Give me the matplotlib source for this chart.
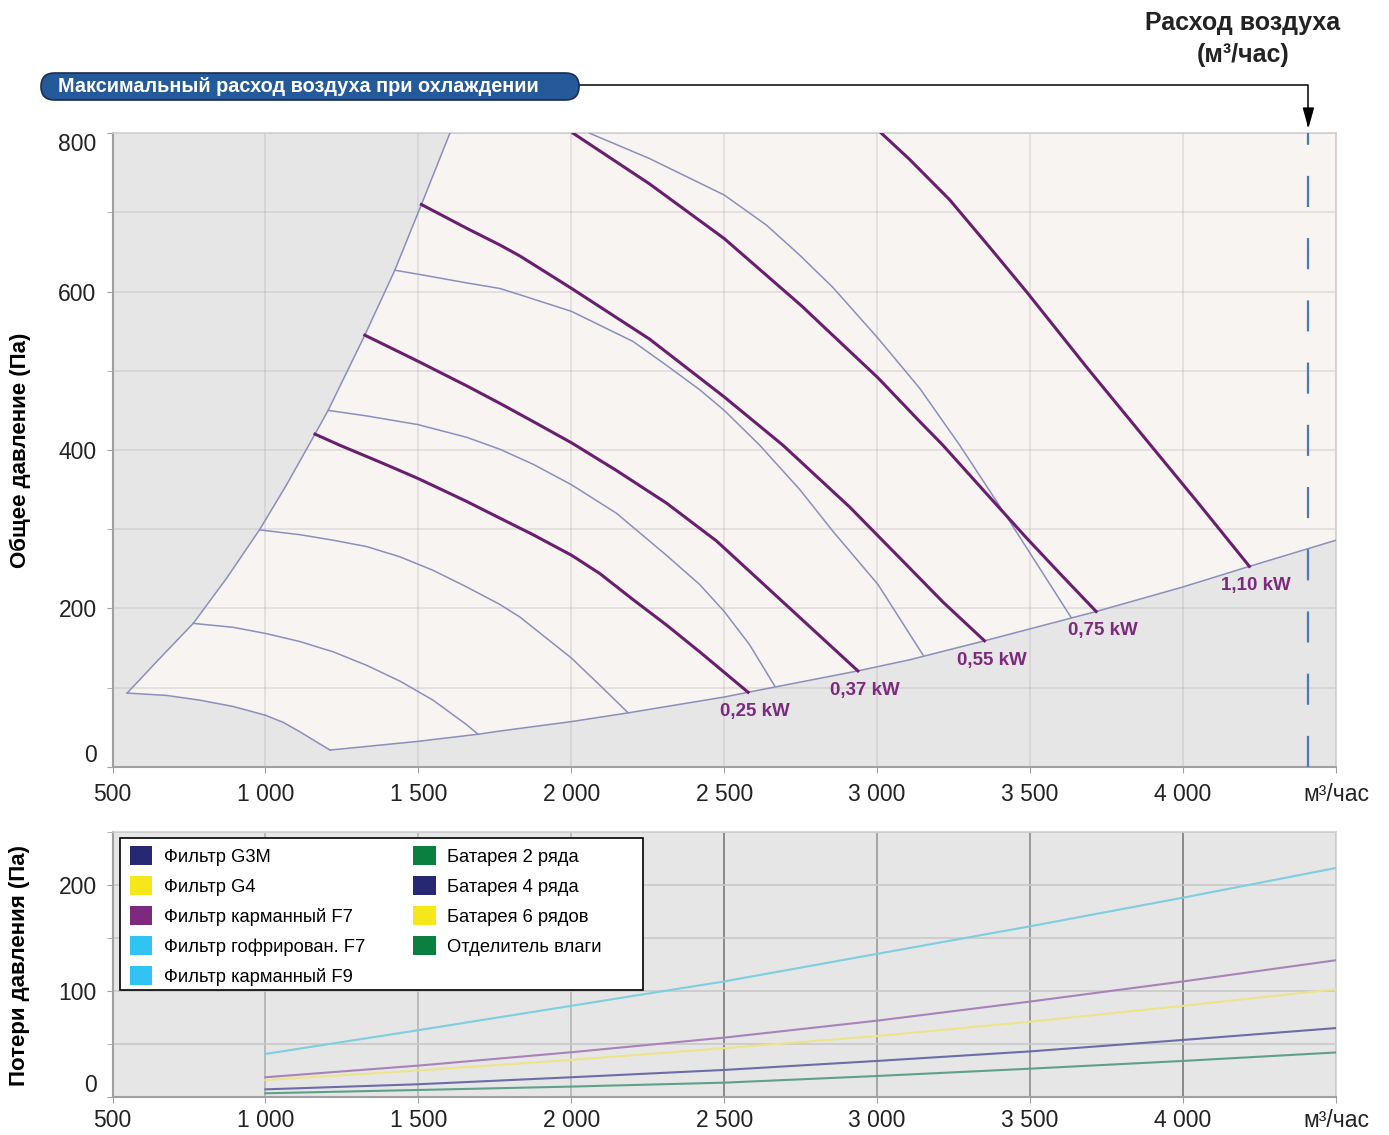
"""Fan performance chart with pressure losses of the unit components."""

import matplotlib
matplotlib.use("Agg")  # non-interactive backend

import matplotlib.pyplot as plt
from matplotlib.patches import Patch, FancyBboxPatch, Rectangle

plt.rcParams["font.family"] = ["Liberation Sans", "DejaVu Sans"]

# ---- axis ticks ----
X_TICKS = [500, 1000, 1500, 2000, 2500, 3000, 3500, 4000, 4500]
X_TICK_LABELS = ["500", "1 000", "1 500", "2 000", "2 500", "3 000",
                 "3 500", "4 000", "м³/час"]
Y_TICKS_TOP = [0, 200, 400, 600, 800]
Y_TICKS_BOTTOM = [0, 100, 200]

# ---- working area boundaries (m3/h, Pa) ----
LEFT_X = [548, 655, 764, 873, 982, 1069, 1162, 1205, 1325, 1423, 1510, 1603]
LEFT_Y = [93, 137, 181, 238, 300, 356, 420, 450, 545, 627, 710, 800]
LOWER_X = [548, 677, 786, 895, 1000, 1058, 1113, 1211]
LOWER_Y = [93, 90, 84, 76, 65, 56, 44, 21]
BOTTOM_X = [1211, 1499, 1695, 1766, 2001, 2186, 2500, 2578, 2937, 3106,
            3351, 3716, 4000, 4217, 4500]
BOTTOM_Y = [21, 32, 41, 45, 57, 68, 88, 94, 121, 135, 159, 196, 227, 253, 286]

# ---- motor power curves ----
POWER_LABELS = ["0,25 kW", "0,37 kW", "0,55 kW", "0,75 kW", "1,10 kW"]
P025_X = [1162, 1243, 1385, 1499, 1658, 1766, 1875, 2001, 2093, 2202, 2311,
          2420, 2578]
P025_Y = [420, 406, 383, 364, 335, 314, 293, 267, 244, 211, 179, 145, 94]
P037_X = [1325, 1499, 1658, 1766, 1875, 2001, 2148, 2311, 2475, 2692, 2937]
P037_Y = [545, 512, 481, 459, 436, 409, 374, 333, 285, 208, 121]
P055_X = [1510, 1658, 1766, 1832, 2001, 2256, 2500, 2692, 2910, 3106, 3215,
          3351]
P055_Y = [710, 680, 659, 645, 604, 540, 467, 406, 328, 251, 208, 159]
P075_X = [2006, 2256, 2500, 2750, 3003, 3139, 3215, 3350, 3488, 3600, 3716]
P075_Y = [800, 736, 667, 583, 491, 436, 406, 348, 289, 243, 196]
P110_X = [3014, 3106, 3237, 3370, 3488, 3684, 3907, 4054, 4217]
P110_Y = [800, 767, 716, 655, 600, 505, 400, 331, 253]

# ---- fan speed curves ----
S2_X = [764, 895, 1004, 1113, 1222, 1331, 1440, 1548, 1658, 1695]
S2_Y = [181, 176, 168, 158, 145, 128, 108, 84, 53, 41]
S3_X = [982, 1113, 1222, 1331, 1440, 1548, 1658, 1766, 1832, 2001, 2093,
        2186]
S3_Y = [299, 293, 286, 278, 265, 248, 227, 205, 189, 137, 103, 68]
S4_X = [1205, 1331, 1499, 1658, 1766, 1875, 2001, 2148, 2311, 2420, 2500,
        2583, 2665]
S4_Y = [450, 443, 432, 416, 401, 382, 356, 320, 267, 230, 196, 154, 102]
S5_X = [1423, 1499, 1658, 1766, 1832, 2001, 2202, 2311, 2420, 2500, 2616,
        2747, 2856, 3003, 3150]
S5_Y = [627, 622, 611, 604, 596, 575, 537, 507, 476, 450, 406, 350, 297,
        230, 141]
S6_X = [2060, 2256, 2500, 2638, 2747, 2856, 3003, 3139, 3270, 3433, 3635]
S6_Y = [800, 768, 722, 684, 646, 605, 541, 478, 406, 310, 188]

MAX_COOLING_FLOW = 4410

# ---- pressure losses (bottom panel) ----
LOSS_X = [1000, 1500, 2000, 2500, 3000, 3500, 4000, 4500]
LOSS_F9 = [40.6, 63, 86, 109, 135, 161, 188, 216]
LOSS_F7 = [18.6, 29.6, 42.2, 56, 72, 90, 109, 129]
LOSS_G4 = [16, 25, 35, 46, 57.5, 71, 86, 101.6]
LOSS_G3M = [7.2, 12, 18.6, 25.5, 34, 43, 53.8, 65]
LOSS_COIL2 = [3.5, 6.6, 9.8, 13.5, 19.8, 26.7, 34, 42]

LEGEND_LABELS = ["Фильтр G3M", "Фильтр G4", "Фильтр карманный F7",
                 "Фильтр гофрирован. F7", "Фильтр карманный F9",
                 "Батарея 2 ряда", "Батарея 4 ряда", "Батарея 6 рядов",
                 "Отделитель влаги"]
LEGEND_COLORS = ["#262874", "#f6e71a", "#7d2a7e", "#31c3f2", "#31c3f2",
                 "#0b7f40", "#262874", "#f6e71a", "#0b7f40"]

THICK = "#6a1f6e"
THIN = "#8a8fbb"
LABEL_PURPLE = "#7b2a7c"
GRAY_BG = "#e6e6e6"
PINK_BG = "#f8f4f2"


def style_axes(ax):
    for side in ("left", "bottom"):
        ax.spines[side].set_color("#a0a0a0")
        ax.spines[side].set_linewidth(1.5)
    for side in ("top", "right"):
        ax.spines[side].set_color("#cfcfcf")
        ax.spines[side].set_linewidth(1.2)
    ax.tick_params(which="both", colors="#a0a0a0", labelcolor="#222222",
                   labelsize=16.5, length=4)


fig = plt.figure(figsize=(13.89, 11.35), dpi=100)
ax = fig.add_axes([0.081, 0.3245, 0.8808, 0.5581])
ax2 = fig.add_axes([0.081, 0.0335, 0.8808, 0.2335])

# ---------------- top panel ----------------
ax.set_facecolor(GRAY_BG)
fill_x = LEFT_X + [4500] + BOTTOM_X[::-1] + LOWER_X[::-1]
fill_y = LEFT_Y + [800] + BOTTOM_Y[::-1] + LOWER_Y[::-1]
ax.fill(fill_x, fill_y, color=PINK_BG, lw=0, zorder=1)

for xs, ys in [(LEFT_X, LEFT_Y), (LOWER_X, LOWER_Y), (BOTTOM_X, BOTTOM_Y),
               (S2_X, S2_Y), (S3_X, S3_Y), (S4_X, S4_Y), (S5_X, S5_Y),
               (S6_X, S6_Y)]:
    ax.plot(xs, ys, color=THIN, lw=1.1, zorder=3, solid_joinstyle="round")

power_curves = [(P025_X, P025_Y), (P037_X, P037_Y), (P055_X, P055_Y),
                (P075_X, P075_Y), (P110_X, P110_Y)]
for (xs, ys), label in zip(power_curves, POWER_LABELS):
    ax.plot(xs, ys, color=THICK, lw=2.2, zorder=4, solid_joinstyle="round")
    ax.annotate(label, xy=(xs[-1], ys[-1]), xytext=(5, -14),
                textcoords="offset points", ha="center", va="center",
                color=LABEL_PURPLE, fontsize=13.5, fontweight="bold")

ax.axvline(MAX_COOLING_FLOW, color="#4a78b8", lw=1.6,
           linestyle=(0, (14, 14)), zorder=5)

ax.set_xlim(500, 4500)
ax.set_ylim(0, 800)
ax.set_xticks(X_TICKS)
ax.set_xticklabels(X_TICK_LABELS)
ax.set_yticks(Y_TICKS_TOP)
ax.set_yticks(range(0, 801, 100), minor=True)
ax.grid(True, which="both", color="#b0b0b0", alpha=0.35, lw=1.2)
style_axes(ax)
ax.tick_params(axis="x", pad=8)
ax.tick_params(axis="y", pad=7.5)
ax.get_yticklabels()[0].set_va("bottom")
ax.get_yticklabels()[-1].set_va("top")

# ---------------- bottom panel ----------------
ax2.set_facecolor(GRAY_BG)
loss_series = [(LOSS_F9, "#7fcde0"), (LOSS_F7, "#a882b8"),
               (LOSS_G4, "#ebe48a"), (LOSS_G3M, "#6c6ca8"),
               (LOSS_COIL2, "#5fa088")]
for ys, col in loss_series:
    ax2.plot(LOSS_X, ys, color=col, lw=1.5, zorder=3)

ax2.set_xlim(500, 4500)
ax2.set_ylim(0, 250)
ax2.set_xticks(X_TICKS)
ax2.set_xticklabels(X_TICK_LABELS)
ax2.set_yticks(Y_TICKS_BOTTOM)
ax2.set_yticks(range(0, 251, 50), minor=True)
ax2.grid(True, axis="y", which="both", color="#c8c8c8", lw=1.2)
ax2.grid(True, axis="x", which="major", color="#9a9a9a", lw=1.2)
grid_shades = ["#a0a0a0", "#b0b0b0", "#b4b4b4", "#b4b4b4", "#7a7a7a",
               "#9a9a9a", "#8c8c8c", "#7a7a7a", "#b0b0b0"]
for gl, shade in zip(ax2.get_xgridlines(), grid_shades):
    gl.set_color(shade)
style_axes(ax2)
ax2.tick_params(axis="x", pad=5)
ax2.tick_params(axis="y", pad=7.5)
ax2.get_yticklabels()[0].set_va("bottom")

# legend box drawn separately: it is wider than its entries
ax2.add_patch(Rectangle((0.0061, 0.4038), 0.4275, 0.5736,
                        transform=ax2.transAxes, facecolor="white",
                        edgecolor="black", lw=1.2, zorder=9))
handles = [Patch(facecolor=c, edgecolor="none") for c in LEGEND_COLORS]
leg = ax2.legend(handles, LEGEND_LABELS, ncol=2, loc="upper left",
                 bbox_to_anchor=(0.0143, 0.947), borderaxespad=0,
                 borderpad=0, frameon=False, prop={"size": 13.2},
                 handlelength=1.22, handleheight=1.22, labelspacing=0.56,
                 columnspacing=2.6, handletextpad=0.65)
leg.set_zorder(10)

# ---------------- labels and annotation ----------------
fig.text(20 / 1389, 1 - 450 / 1135, "Общее давление (Па)", rotation=90,
         ha="center", va="center", fontsize=16, fontweight="bold")
fig.text(20 / 1389, 1 - 965 / 1135, "Потери давления (Па)", rotation=90,
         ha="center", va="center", fontsize=16, fontweight="bold")
fig.text(1243 / 1389, 1 - 23 / 1135, "Расход воздуха", ha="center",
         va="center", fontsize=18, fontweight="bold", color="#222222")
fig.text(1243 / 1389, 1 - 55 / 1135, "(м³/час)", ha="center",
         va="center", fontsize=18, fontweight="bold", color="#222222")

banner = FancyBboxPatch((0.41, 10.35), 5.38, 0.27,
                        boxstyle="round,pad=0,rounding_size=0.135",
                        transform=fig.dpi_scale_trans, facecolor="#245a9a",
                        edgecolor="#1c2c4c", lw=1.2)
fig.add_artist(banner)
fig.text(58 / 1389, 1 - 87 / 1135, "Максимальный расход воздуха при охлаждении",
         ha="left", va="center", color="white", fontsize=14.3,
         fontweight="bold")

ax.annotate("", xy=(MAX_COOLING_FLOW, 806), xycoords="data",
            xytext=(579 / 1389, 1 - 85 / 1135), textcoords="figure fraction",
            arrowprops=dict(arrowstyle="-|>,head_length=0.9,head_width=0.25",
                            connectionstyle="angle,angleA=0,angleB=90,rad=0",
                            color="black", lw=1.1, shrinkA=0, shrinkB=0,
                            mutation_scale=14),
            annotation_clip=False)

fig.savefig("out.png", dpi=100, facecolor="white")
plt.close(fig)
